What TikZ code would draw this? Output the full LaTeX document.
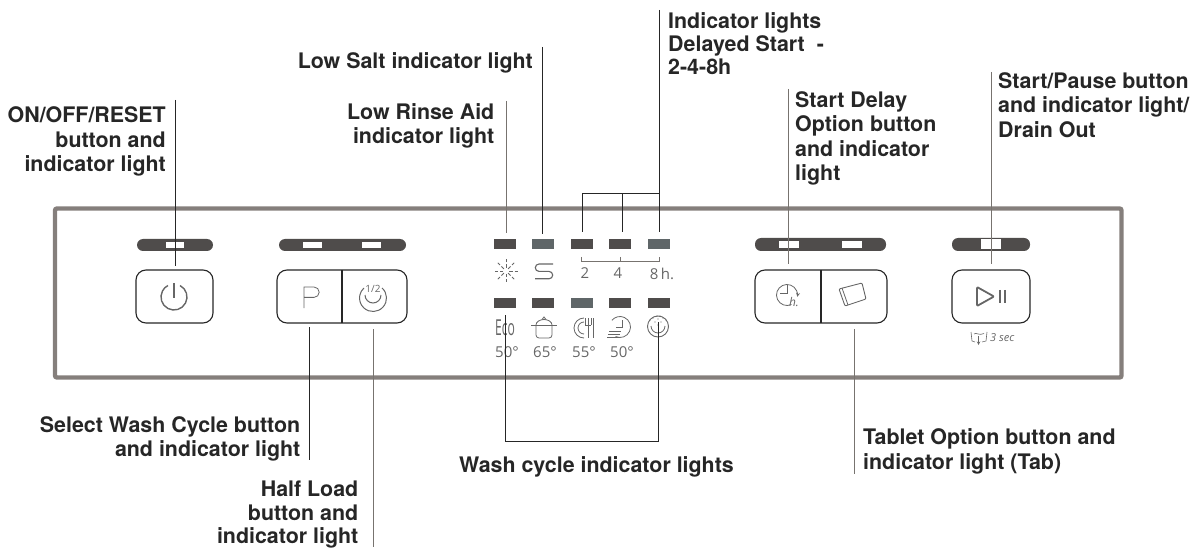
\documentclass[tikz,border=0pt]{standalone}
\usepackage{fontspec}
\setmainfont{Liberation Sans}
\newfontfamily\iconFont{Open Sans}
\newfontfamily\labelFont{TeX Gyre Heros}
\usetikzlibrary{positioning}
\definecolor{panelGray}{HTML}{857F7C}
\definecolor{barDark}{HTML}{4F4C4B}
\definecolor{iconGray}{HTML}{666666}
\definecolor{leaderGray}{HTML}{77736F}
\definecolor{lampTeal}{HTML}{5F6668}
\begin{document}
\begin{tikzpicture}[x=1pt,y=-1pt,
    labelRight/.style={font=\labelFont\bfseries\fontsize{21.4}{24.5}\selectfont, text=black!85, align=right, anchor=north east, inner sep=0pt},
    labelLeft/.style={font=\labelFont\bfseries\fontsize{21.4}{24.5}\selectfont, text=black!85, align=left, anchor=north west, inner sep=0pt},
    keyBox/.style={draw=black!85, line width=1.1pt, rounded corners=10pt},
    stripBar/.style={fill=barDark, rounded corners=6pt},
    stripWindow/.style={fill=white},
    leader/.style={draw=black!85, line width=0.8pt},
    leaderSoft/.style={draw=leaderGray, line width=0.9pt},
    icon/.style={draw=iconGray, line width=1.4pt},
    iconThin/.style={draw=iconGray, line width=0.8pt},
    iconText/.style={font=\iconFont\fontsize{15}{16}\selectfont, text=iconGray, inner sep=0pt}]
  \useasboundingbox (0,0) rectangle (1192,548);
  % panel
  \draw[panelGray, line width=4.4pt, rounded corners=2pt] (55,208.5) rectangle (1121.5,377.5);

  % strips above the keys
  \fill[stripBar] (137,239) rectangle (213,251);
  \fill[stripWindow] (166,242) rectangle (184,248);
  \fill[stripBar] (279,239) rectangle (406,251);
  \fill[stripWindow] (303,242) rectangle (322,248);
  \fill[stripWindow] (362,242) rectangle (381,248);
  \fill[stripBar] (755,238) rectangle (886,251);
  \fill[stripWindow] (779,241) rectangle (799,248);
  \fill[stripWindow] (842,241) rectangle (862,248);
  \fill[stripBar] (952,238) rectangle (1030,251);
  \fill[stripWindow] (981,239.5) rectangle (1001,249);

  % keys
  \draw[keyBox] (136,270) rectangle (213,323);
  \draw[keyBox] (277,270) rectangle (407,323);
  \draw[black!85, line width=1.1pt] (342,270) -- (342,323);
  \draw[keyBox] (755,270) rectangle (887,323);
  \draw[black!85, line width=1.1pt] (821,270) -- (821,323);
  \draw[keyBox] (952,270) rectangle (1030,323);

  % lamps
  \foreach \lampX/\lampFill in {494/barDark,532/lampTeal,571/barDark,609/barDark,648/lampTeal}
    \fill[fill=\lampFill] (\lampX,239.5) rectangle +(22,9.5);
  \foreach \lampX/\lampFill in {494/barDark,532/barDark,571/lampTeal,609/barDark,648/barDark}
    \fill[fill=\lampFill] (\lampX,298) rectangle +(22,9.5);

  % power
  \draw[icon] (174,297) ++(-62:13) arc (-62:242:13);
  \draw[icon] (174,283) -- (174,298);
  % P
  \draw[iconThin] (304,308) -- (304,287) -- (314,287) arc (-90:90:5.2) -- (304,297.4);
  % half load
  \node[iconText, font=\iconFont\fontsize{10}{10}\selectfont] (halfMark) at (373,288.5) {1/2};
  \draw[iconThin, line width=1pt] (373,298) ++(-48:13.5) arc (-48:228:13.5);
  \draw[iconThin, line width=1pt] (381,295) arc (0:180:8);
  % sun
  \foreach \rayAngle in {0,45,...,315}
    \draw[iconThin] (506,271) ++(\rayAngle:3) -- ++(\rayAngle:3.5) ++(\rayAngle:2) -- ++(\rayAngle:3);
  % salt
  \draw[iconThin, line width=1.1pt] (553,264) -- (539,264) arc (-90:-270:3.7) -- (549,271.4) arc (-90:90:3.7) -- (535,278.8);
  % digits
  \node[iconText] (digitTwo) at (585,273.5) {2};
  \node[iconText] (digitFour) at (618,273.5) {4};
  \node[iconText] (digitEight) at (662,273.5) {8\,h.};
  \draw[leaderGray, line width=0.9pt] (581,257) -- (581,261) -- (659,261) -- (659,257);
  \draw[leaderGray, line width=0.7pt] (620.5,257) -- (620.5,261);

  % cycle symbols
  \node[iconText, font=\iconFont\fontsize{22}{22}\selectfont, xscale=0.55] (ecoMark) at (505,328) {Eco};
  \draw[iconThin, rounded corners=3pt] (536,325) -- (536,338) -- (552,338) -- (552,325);
  \draw[iconThin] (531,325) -- (557,325);
  \draw[iconThin] (536,325) arc (-180:0:8 and 5.5);
  \draw[iconThin] (542,319.5) -- (544,317) -- (546,319.5);
  \draw[iconThin] (584,318) arc (-90:-270:10);
  \draw[iconThin] (584,322) arc (-90:-270:6);
  \draw[iconThin] (585,318) -- (585,325) (588,318) -- (588,325) (591,318) -- (591,325);
  \draw[iconThin] (585,325) -- (591,325) (588,325) -- (588,338);
  \draw[iconThin] (593,318) -- (593,338);
  \draw[iconThin] (620,327) ++(115:10.5) arc (115:-140:10.5);
  \draw[iconThin] (622,320) -- (622,327) -- (616,327);
  \draw[iconThin] (609,331) -- (621,331) (608,334) -- (620,334) (607,337) -- (619,337);
  \draw[iconThin, line width=0.9pt] (658,326.5) circle (10.5);
  \draw[iconThin] (651,326) arc (180:0:7);
  \foreach \dotX/\dotY in {650/320,653/318,657/316,660/316,663/318,666/320,655/322,661/322,658/319,658/325}
    \fill[iconGray] (\dotX,\dotY) circle (0.6);
  \node[iconText] (degreeOne) at (507,352) {50°};
  \node[iconText] (degreeTwo) at (545,352) {65°};
  \node[iconText] (degreeThree) at (584,352) {55°};
  \node[iconText] (degreeFour) at (622,352) {50°};

  % clock and tablet
  \draw[iconThin, -stealth] (787,295) ++(65:10.5) arc (65:370:10.5);
  \draw[iconThin] (787,285) -- (787,293) -- (780,293);
  \node[iconText, font=\iconFont\itshape\fontsize{12}{12}\selectfont] (hourMark) at (794,302) {h.};
  \draw[iconThin, line width=0.9pt, rounded corners=1pt] (839,289) -- (862,283) -- (866,299) -- (845,306) -- cycle;
  \draw[iconThin] (842,288) -- (848,305);

  % start
  \draw[icon, line width=1.8pt, rounded corners=1pt, line join=round] (977,287) -- (994,296.5) -- (977,306) -- cycle;
  \draw[icon, line width=1.8pt] (1000,290) -- (1000,303) (1005,290) -- (1005,303);
  \draw[iconThin, line width=0.6pt] (971,332) -- (972,341) -- (975,342) (987,332) -- (986,341) -- (982,342) (974,334) .. controls (976,332) and (979,336) .. (984,333.5);
  \draw[iconThin, line width=0.6pt, -stealth] (978.5,336) -- (978.5,345);
  \node[iconText, font=\iconFont\itshape\fontsize{11}{11}\selectfont, anchor=west] (drainTime) at (990,338) {3 sec};

  % labels
  \node[labelRight] (onOffLabel) at (166,106.6) {ON/OFF/RESET\\button and\\indicator light};
  \node[labelRight] (rinseLabel) at (494.5,103) {Low Rinse Aid\\indicator light};
  \node[labelRight] (saltLabel) at (533,52) {Low Salt indicator light};
  \node[labelLeft, font=\labelFont\bfseries\fontsize{21.4}{23}\selectfont] (delayLampLabel) at (668,12) {Indicator lights\\Delayed Start\ \ -\\2-4-8h};
  \node[labelLeft] (startDelayLabel) at (795,91) {Start Delay\\Option button\\and indicator\\light};
  \node[labelLeft] (startPauseLabel) at (998,72) {Start/Pause button\\and indicator light/\\Drain Out};
  \node[labelRight] (cycleLabel) at (300.5,416) {Select Wash Cycle button\\and indicator light};
  \node[labelLeft] (washLabel) at (459,456) {Wash cycle indicator lights};
  \node[labelLeft] (tabletLabel) at (863,428.6) {Tablet Option button and\\indicator light (Tab)};
  \node[labelRight, font=\labelFont\bfseries\fontsize{21.4}{23.5}\selectfont] (halfLabel) at (358.5,481) {Half Load\\button and\\indicator light};

  % leader ends
  \coordinate (onOffTop) at (175,100);
  \coordinate (onOffEnd) at (175,266);
  \coordinate (rinseTop) at (506,101);
  \coordinate (rinseEnd) at (506,233);
  \coordinate (saltTop) at (542,47);
  \coordinate (saltEnd) at (542,234);
  \coordinate (delayTop) at (659.5,10);
  \coordinate (delayJoin) at (659.5,193);
  \coordinate (delayEight) at (659.5,232);
  \coordinate (delayFour) at (622,232);
  \coordinate (delayTwo) at (582,232);
  \coordinate (startDelayTop) at (788,89);
  \coordinate (startDelayEnd) at (788,264);
  \coordinate (startTop) at (991,72);
  \coordinate (startEnd) at (991,264);
  \coordinate (cycleTop) at (309,327);
  \coordinate (cycleEnd) at (309,460);
  \coordinate (halfTop) at (373,329);
  \coordinate (halfEnd) at (373,547);
  \coordinate (washLeft) at (505,315);
  \coordinate (washRight) at (658,322);
  \coordinate (washFoot) at (505,441);
  \coordinate (tabletTop) at (854,329);
  \coordinate (tabletEnd) at (854,474);

  \draw[leader] (onOffTop) -- (onOffEnd);
  \draw[leaderSoft] (rinseTop) -- (rinseEnd);
  \draw[leader] (saltTop) -- (saltEnd);
  \draw[leader] (delayTop) -- (delayEight);
  \draw[leader] (delayTwo) |- (delayJoin);
  \draw[leader] (delayFour) -- (delayFour |- delayJoin);
  \draw[leaderSoft] (startDelayTop) -- (startDelayEnd);
  \draw[leaderSoft] (startTop) -- (startEnd);
  \draw[leader] (cycleTop) -- (cycleEnd);
  \draw[leaderSoft] (halfTop) -- (halfEnd);
  \draw[leader] (washLeft) -- (washFoot) -| (washRight);
  \draw[leaderSoft] (tabletTop) -- (tabletEnd);
\end{tikzpicture}
\end{document}
